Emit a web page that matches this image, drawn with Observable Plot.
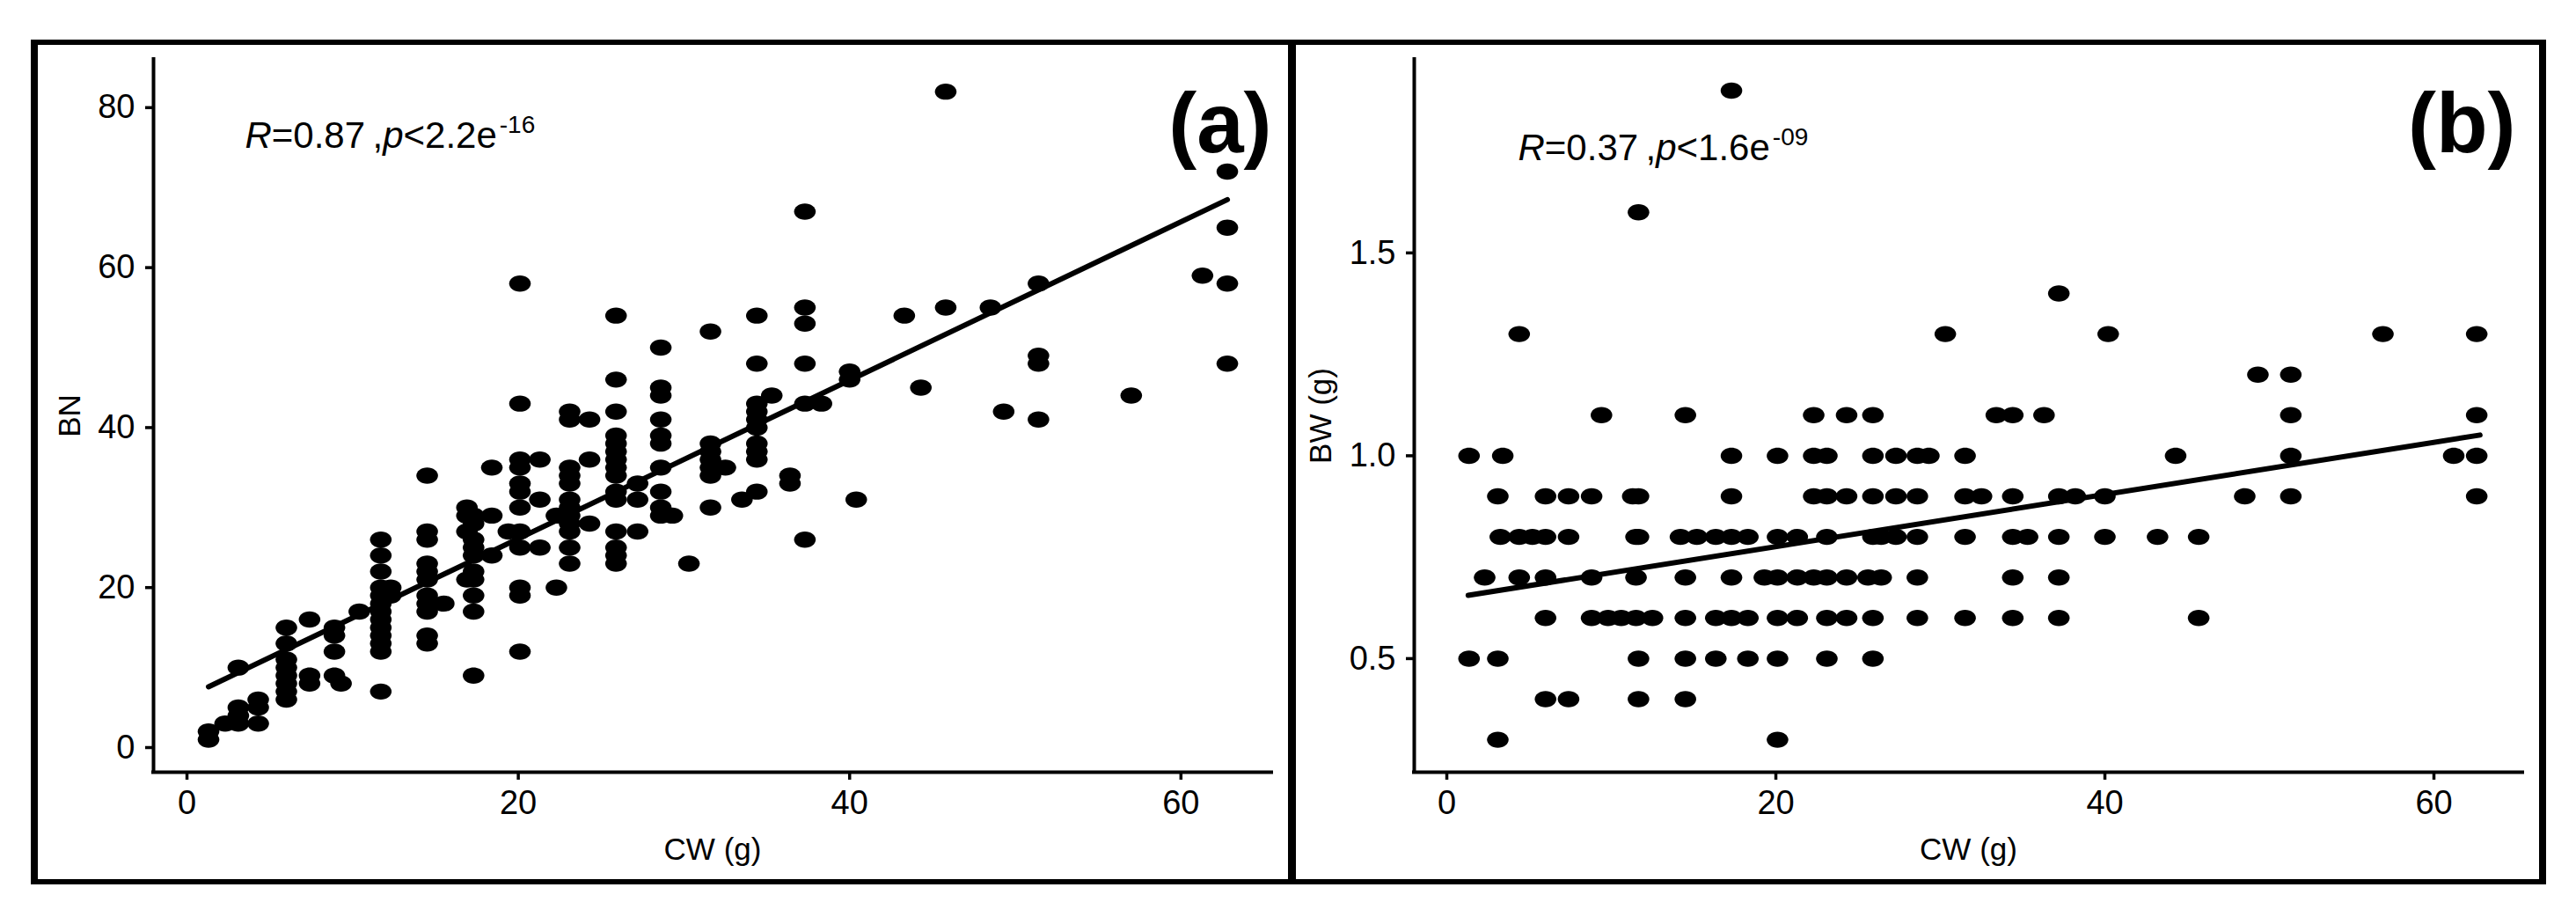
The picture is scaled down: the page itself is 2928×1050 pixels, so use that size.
<!DOCTYPE html>
<html><head><meta charset="utf-8">
<script src="https://cdn.jsdelivr.net/npm/d3@7"></script>
<script src="https://cdn.jsdelivr.net/npm/@observablehq/plot@0.6"></script>
<style>
html,body{margin:0;padding:0;background:#fff;width:2928px;height:1050px;overflow:hidden;font-family:"Liberation Sans",Arial,sans-serif;}
#outer{position:absolute;left:35px;top:45px;width:2859px;height:960px;box-sizing:border-box;border:6px solid #000;border-left-width:8px;border-right-width:8px;}
#divider{position:absolute;left:1464px;top:45px;width:9px;height:960px;background:#000;}
#pa{position:absolute;left:43px;top:51px;}
#pb{position:absolute;left:1473px;top:51px;}
</style></head><body>
<div id="outer"></div><div id="divider"></div><div id="pa"></div><div id="pb"></div>
<script>
// ---- Panel (a): CW (g) columns and BN values in each column ----
const cwA = [1.3, 2.3, 3.1, 4.3, 6.0, 7.4, 8.9, 9.3, 10.4, 11.7, 12.3, 14.5, 15.5, 16.9, 17.3, 18.4, 19.4, 20.1, 21.3, 22.3, 23.1, 24.3, 25.9, 27.2, 28.6, 29.3, 30.3, 31.6, 32.5, 33.5, 34.4, 35.3, 36.4, 37.3, 38.3, 40.0, 40.4, 43.3, 44.3, 45.8, 48.5, 49.3, 51.4, 57.0, 61.3, 62.8];
const bnA = [
  [1, 2], [3], [3, 4, 5, 10], [3, 5, 6], [6, 7, 8, 9, 10, 11, 13, 15], [8, 9, 16], [9, 12, 14, 15], [8], [17],
  [7, 12, 13, 14, 15, 16, 17, 18, 19, 20, 22, 24, 26], [19, 20], [13, 14, 17, 18, 19, 21, 22, 23, 26, 27, 34], [18],
  [21, 27, 29, 30], [9, 17, 19, 21, 22, 24, 25, 26, 28, 29], [24, 29, 35], [27],
  [12, 19, 20, 25, 27, 30, 32, 33, 35, 36, 43, 58], [25, 31, 36], [20, 29],
  [23, 25, 27, 28, 29, 30, 31, 33, 34, 35, 41, 42], [28, 36, 41],
  [23, 24, 25, 27, 31, 32, 34, 35, 36, 37, 38, 39, 42, 46, 54], [27, 31, 33],
  [29, 30, 32, 35, 38, 39, 41, 44, 45, 50], [29], [23], [30, 34, 35, 36, 37, 38, 52], [35], [31],
  [32, 36, 37, 38, 40, 41, 42, 43, 48, 54], [44], [33, 34], [26, 43, 48, 53, 55, 67], [43], [46, 47], [31],
  [54], [45], [55, 82], [55], [42], [41, 48, 49, 58], [44], [59], [48, 58, 65, 72]
];
const fitAx = [1.3, 62.8];
const fitAy = [7.6, 68.5];

// ---- Panel (b): CW (g) columns and BW (g) values in each column ----
const cwB = [1.35, 2.3, 3.1, 3.25, 3.4, 4.4, 5.2, 6.0, 7.4, 8.8, 9.4, 9.8, 10.6, 11.3, 11.5, 11.65, 12.5, 14.2, 14.5, 15.2, 16.35, 17.3, 18.3, 19.3, 20.1, 21.3, 22.3, 23.1, 24.3, 25.6, 25.9, 26.4, 27.3, 28.6, 29.3, 30.3, 31.5, 32.5, 33.4, 34.4, 35.3, 36.3, 37.2, 38.2, 40.0, 40.2, 43.2, 44.3, 45.7, 48.5, 49.3, 51.3, 56.9, 61.2, 62.6];
const bwB = [
  [1.0, 0.5], [0.7], [0.9, 0.5, 0.3], [0.8], [1.0], [1.3, 0.8, 0.7], [0.8], [0.9, 0.8, 0.7, 0.6, 0.4],
  [0.9, 0.8, 0.4], [0.9, 0.7, 0.6], [1.1], [0.6], [0.6], [0.9], [0.8, 0.7, 0.6], [1.6, 0.9, 0.8, 0.5, 0.4],
  [0.6], [0.8], [1.1, 0.7, 0.6, 0.5, 0.4], [0.8], [0.8, 0.6, 0.5], [1.9, 1.0, 0.9, 0.8, 0.7, 0.6],
  [0.8, 0.6, 0.5], [0.7], [1.0, 0.8, 0.7, 0.6, 0.5, 0.3], [0.8, 0.7, 0.6], [1.1, 1.0, 0.9, 0.7],
  [1.0, 0.9, 0.8, 0.7, 0.6, 0.5], [1.1, 0.9, 0.7, 0.6], [0.7], [1.1, 1.0, 0.9, 0.8, 0.6, 0.5], [0.8, 0.7],
  [1.0, 0.9, 0.8], [1.0, 0.9, 0.8, 0.7, 0.6], [1.0], [1.3], [1.0, 0.9, 0.8, 0.6], [0.9], [1.1],
  [1.1, 0.9, 0.8, 0.7, 0.6], [0.8], [1.1], [1.4, 0.9, 0.8, 0.7, 0.6], [0.9], [0.9, 0.8], [1.3], [0.8],
  [1.0], [0.8, 0.6], [0.9], [1.2], [1.2, 1.1, 1.0, 0.9], [1.3], [1.0], [1.3, 1.1, 1.0, 0.9]
];
const fitBx = [1.3, 62.8];
const fitBy = [0.656, 1.051];

// ---- ticks and texts ----
const xTicks = [0, 20, 40, 60];
const yTicksA = [0, 20, 40, 60, 80];
const yTicksB = [0.5, 1.0, 1.5];
const corrA = {r: "0.87", p: "2.2", e: "-16"};
const corrB = {r: "0.37", p: "1.6", e: "-09"};

const FONT = "'Liberation Sans', Arial, Helvetica, sans-serif";

const ellipse = {
  draw(ctx, size) {
    const r = Math.sqrt(size / Math.PI), rx = r * 1.16, ry = r * 0.87, k = 0.5523;
    ctx.moveTo(rx, 0);
    ctx.bezierCurveTo(rx, ry * k, rx * k, ry, 0, ry);
    ctx.bezierCurveTo(-rx * k, ry, -rx, ry * k, -rx, 0);
    ctx.bezierCurveTo(-rx, -ry * k, -rx * k, -ry, 0, -ry);
    ctx.bezierCurveTo(rx * k, -ry, rx, -ry * k, rx, 0);
    ctx.closePath();
  }
};

function panel(o) {
  const pts = o.cw.flatMap((c, i) => o.vals[i].map(v => ({x: c, y: v})));
  const fit = o.fitX.map((x, i) => ({x, y: o.fitY[i]}));
  const corrString = d => `R=${d.r} ,p<${d.p}e${d.e}`;
  const svg = Plot.plot({
    width: o.width, height: 949,
    marginLeft: o.marginLeft, marginRight: 19, marginTop: 16, marginBottom: 123,
    style: {fontFamily: FONT, color: "#000", background: "transparent", overflow: "visible"},
    x: {domain: o.xDomain},
    y: {domain: o.yDomain},
    marks: [
      Plot.ruleX([o.xDomain[0]], {stroke: "#000", strokeWidth: 4, strokeLinecap: "square"}),
      Plot.ruleY([o.yDomain[0]], {stroke: "#000", strokeWidth: 4, strokeLinecap: "square"}),
      Plot.axisX({ticks: xTicks, tickSize: 9, tickPadding: 12, fontSize: 38, strokeWidth: 3.5, label: null}),
      Plot.axisY({ticks: o.yTicks, tickSize: 9, tickPadding: 12, fontSize: 38, strokeWidth: 3.5, label: null, tickFormat: o.yFmt}),
      Plot.dot(pts, {x: "x", y: "y", r: 10.6, symbol: ellipse, fill: "#000", stroke: "none"}),
      Plot.line(fit, {x: "x", y: "y", stroke: "#000", strokeWidth: 6}),
      Plot.text([o.corr], {x: () => o.corrX, y: () => o.corrY, text: corrString, textAnchor: "start", lineAnchor: "middle", fontSize: 42}),
      Plot.text([o.tag], {frameAnchor: "top-right", textAnchor: "end", lineAnchor: "middle", dx: o.tagDx, dy: 75, fontSize: 96, fontWeight: "bold"}),
      Plot.text(["CW (g)"], {frameAnchor: "bottom", textAnchor: "middle", lineAnchor: "middle", dy: 88, fontSize: 35}),
      Plot.text([o.yLabel], {frameAnchor: "left", textAnchor: "middle", lineAnchor: "middle", rotate: -90, dx: o.yLabelDx, fontSize: 35})
    ]
  });
  // rich text for the correlation label (italic R and p, superscript exponent)
  const ns = "http://www.w3.org/2000/svg";
  const target = corrString(o.corr);
  svg.querySelectorAll("text").forEach(t => {
    if (t.textContent !== target) return;
    const d = o.corr;
    t.textContent = "";
    const add = (txt, attrs) => {
      const s = document.createElementNS(ns, "tspan");
      s.textContent = txt;
      for (const k in attrs) s.setAttribute(k, attrs[k]);
      t.appendChild(s);
    };
    add("R", {"font-style": "italic"});
    add(`=${d.r}\u2009,`, {});
    add("p", {"font-style": "italic"});
    add(`<${d.p}e`, {});
    add(d.e, {"font-size": "28", dx: "3", dy: "-17"});
  });
  return svg;
}

document.getElementById("pa").appendChild(panel({
  cw: cwA, vals: bnA, fitX: fitAx, fitY: fitAy, width: 1421, marginLeft: 131,
  xDomain: [-2.02, 65.48], yDomain: [-3.08, 86.03], yTicks: yTicksA, yFmt: d => String(d),
  corr: corrA, corrX: 3.5, corrY: 76.5, tag: "(a)", tagDx: 0, yLabel: "BN", yLabelDx: -95
}));
document.getElementById("pb").appendChild(panel({
  cw: cwB, vals: bwB, fitX: fitBx, fitY: fitBy, width: 1413, marginLeft: 134,
  xDomain: [-1.98, 65.4], yDomain: [0.22, 1.977], yTicks: yTicksB, yFmt: d3.format(".1f"),
  corr: corrB, corrX: 4.33, corrY: 1.758, tag: "(b)", tagDx: -8, yLabel: "BW (g)", yLabelDx: -106
}));
</script></body></html>
